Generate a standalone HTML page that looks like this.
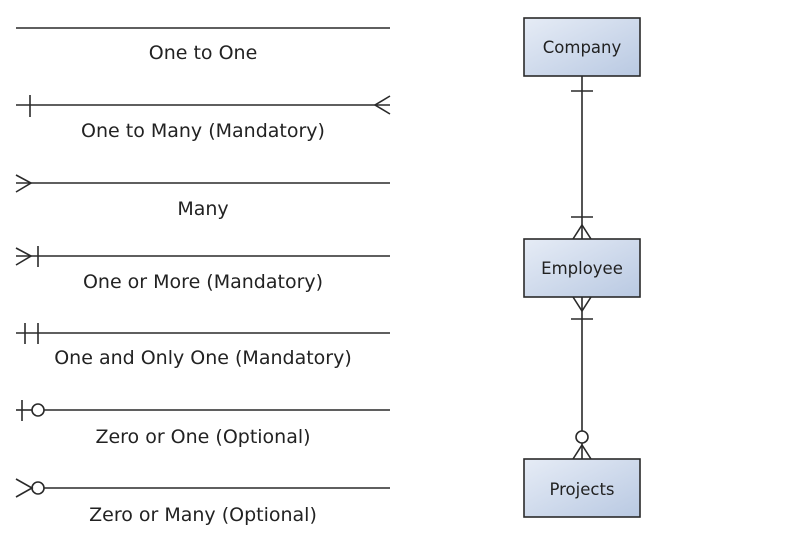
<!DOCTYPE html>
<html><head><meta charset="utf-8"><style>
html,body{margin:0;padding:0;background:#fff;}
svg text{font-family:"DejaVu Sans","Liberation Sans",sans-serif;fill:#222;}
</style></head><body>
<svg width="797" height="547" viewBox="0 0 797 547" xmlns="http://www.w3.org/2000/svg">
<defs>
<linearGradient id="g" x1="0" y1="0" x2="1" y2="1">
<stop offset="0" stop-color="#e6ecf6"/><stop offset="1" stop-color="#b9c9e2"/>
</linearGradient>
</defs>
<g stroke="#2a2a2a" stroke-width="1.6" fill="none">
<line x1="16" y1="28" x2="390" y2="28"/>
<line x1="16" y1="105" x2="390" y2="105"/>
<line x1="30" y1="95" x2="30" y2="117"/>
<polyline points="390,96 375,105 390,114"/>
<line x1="16" y1="183" x2="390" y2="183"/>
<polyline points="16,175 31,183 16,192"/>
<line x1="16" y1="256" x2="390" y2="256"/>
<polyline points="16,248 31,256 16,265"/>
<line x1="38" y1="246" x2="38" y2="267"/>
<line x1="16" y1="333" x2="390" y2="333"/>
<line x1="25" y1="323" x2="25" y2="344"/>
<line x1="38" y1="323" x2="38" y2="344"/>
<line x1="16" y1="410" x2="32" y2="410"/>
<line x1="44" y1="410" x2="390" y2="410"/>
<line x1="22" y1="400" x2="22" y2="421"/>
<circle cx="38" cy="410" r="6"/>
<line x1="44" y1="488" x2="390" y2="488"/>
<polyline points="16,479 32,488 16,497"/>
<circle cx="38" cy="488" r="6"/>
<line x1="582" y1="76" x2="582" y2="239"/>
<line x1="571" y1="91" x2="593" y2="91"/>
<line x1="571" y1="217" x2="593" y2="217"/>
<polyline points="573,239 582,225 591,239"/>
<line x1="582" y1="297" x2="582" y2="431"/>
<polyline points="573,297 582,311 591,297"/>
<line x1="571" y1="319" x2="593" y2="319"/>
<circle cx="582" cy="437" r="6"/>
<line x1="582" y1="443" x2="582" y2="459"/>
<polyline points="573,459 582,445 591,459"/>
</g>
<g stroke="#2a2a2a" stroke-width="1.6" fill="url(#g)">
<rect x="524" y="18" width="116" height="58"/>
<rect x="524" y="239" width="116" height="58"/>
<rect x="524" y="459" width="116" height="58"/>
</g>
<g font-size="16.5" text-anchor="middle">
<text x="582" y="53">Company</text>
<text x="582" y="274">Employee</text>
<text x="582" y="495">Projects</text>
</g>
<g font-size="19" text-anchor="middle">
<text x="203" y="59">One to One</text>
<text x="203" y="137">One to Many (Mandatory)</text>
<text x="203" y="215">Many</text>
<text x="203" y="288">One or More (Mandatory)</text>
<text x="203" y="364">One and Only One (Mandatory)</text>
<text x="203" y="443">Zero or One (Optional)</text>
<text x="203" y="521">Zero or Many (Optional)</text>
</g>
</svg>
</body></html>
